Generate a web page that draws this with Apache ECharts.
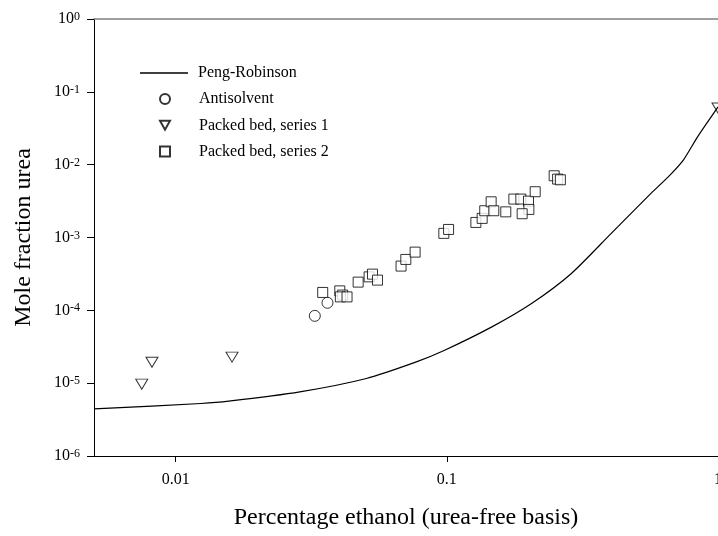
<!DOCTYPE html>
<html style="height: 100%">
<head>
    <meta charset="utf-8">
    <script type="text/javascript" src="https://cdn.jsdelivr.net/npm/echarts@6/dist/echarts.min.js"></script>
    <style>
        body { margin: 0; background: #fff; }
        #chart { width: 718px; height: 536px; }
    </style>
</head>
<body>
<div id="chart"></div>
<script type="text/javascript">
    // Peng-Robinson model curve (x = ethanol fraction, y = urea mole fraction)
    var prX = [0.005, 0.0124, 0.0157, 0.0287, 0.0505, 0.0772, 0.0977, 0.1466, 0.2053, 0.288, 0.404, 0.566, 0.665, 0.745, 0.834, 0.908, 1.0];
    var prY = [4.43e-6, 5.26e-6, 5.66e-6, 7.6e-6, 1.16e-5, 1.96e-5, 2.81e-5, 5.93e-5, 1.24e-4, 3.21e-4, 1.14e-3, 4.03e-3, 7.2e-3, 0.01157, 0.023, 0.0369, 0.062];

    var antiX = [0.0326, 0.0363];
    var antiY = [8.4e-5, 1.27e-4];

    var bed1X = [0.0075, 0.00818, 0.01614, 1.0];
    var bed1Y = [9.7e-6, 1.94e-5, 2.28e-5, 0.06];

    var bed2X = [0.03486, 0.0403, 0.0413, 0.0405, 0.04286, 0.0471, 0.0517, 0.0532, 0.0555, 0.0678,
                 0.0706, 0.0764, 0.0975, 0.1015, 0.128, 0.135, 0.138, 0.1457, 0.149, 0.165,
                 0.1767, 0.1875, 0.2001, 0.2007, 0.1896, 0.2118, 0.2488, 0.2562, 0.2623];
    var bed2Y = [1.76e-4, 1.85e-4, 1.62e-4, 1.53e-4, 1.53e-4, 2.44e-4, 2.88e-4, 3.14e-4, 2.60e-4, 4.05e-4,
                 5.0e-4, 6.3e-4, 1.14e-3, 1.29e-3, 1.61e-3, 1.83e-3, 2.33e-3, 3.09e-3, 2.33e-3, 2.25e-3,
                 3.37e-3, 3.37e-3, 3.16e-3, 2.43e-3, 2.12e-3, 4.25e-3, 7.04e-3, 6.34e-3, 6.2e-3];

    var xTicks = [0.01, 0.1, 1];
    var yTicks = [1e-6, 1e-5, 1e-4, 1e-3, 1e-2, 1e-1, 1];

    function pairs(xs, ys) {
        var out = [];
        for (var i = 0; i < xs.length; i++) out.push([xs[i], ys[i]]);
        return out;
    }

    var serif = "'Liberation Serif', 'Times New Roman', serif";
    var downTriangle = 'path://M0,0L10,0L5,9Z';

    var myChart = echarts.init(document.getElementById('chart'));
    var option = {
        backgroundColor: '#fff',
        animation: false,
        textStyle: { fontFamily: serif, color: '#000' },
        grid: { left: 94, right: 0, top: 19, bottom: 80, outerBoundsMode: 'none', containLabel: false },
        legend: [
            {
                data: [{ name: 'Peng-Robinson', icon: 'rect' }],
                left: 140, top: 65, padding: 0,
                itemWidth: 48, itemHeight: 1.3,
                textStyle: { fontFamily: serif, fontSize: 16, lineHeight: 16, color: '#000', padding: [0, 0, 0, 5] }
            },
            {
                data: ['Antisolvent', 'Packed bed, series 1', 'Packed bed, series 2'],
                orient: 'vertical',
                left: 159, top: 91, padding: 0,
                itemWidth: 10, itemHeight: 10, itemGap: 10.3,
                textStyle: { fontFamily: serif, fontSize: 16, lineHeight: 16, color: '#000', padding: [0, 0, 0, 24] }
            }
        ],
        xAxis: [
            {
                type: 'log', logBase: 10, min: 0.005, max: 1,
                name: 'Percentage ethanol (urea-free basis)',
                nameLocation: 'middle', nameGap: 50,
                nameTextStyle: { fontFamily: serif, fontSize: 24, color: '#000' },
                axisLine: { lineStyle: { color: '#000', width: 1 } },
                axisTick: { customValues: xTicks, length: 6, lineStyle: { color: '#000' } },
                axisLabel: {
                    customValues: xTicks, margin: 16,
                    fontFamily: serif, fontSize: 16, color: '#000',
                    formatter: function (v) { return v >= 1 ? '1' : String(+v.toPrecision(1)); }
                },
                splitLine: { show: false },
                minorTick: { show: false }
            },
            {
                type: 'log', logBase: 10, min: 0.005, max: 1, position: 'top',
                axisLine: { lineStyle: { color: '#808080', width: 1.5 } },
                axisTick: { show: false }, axisLabel: { show: false }, splitLine: { show: false }
            }
        ],
        yAxis: {
            type: 'log', logBase: 10, min: 1e-6, max: 1,
            name: 'Mole fraction urea',
            nameLocation: 'middle', nameGap: 58,
            nameTextStyle: { fontFamily: serif, fontSize: 24, color: '#000' },
            axisLine: { show: true, lineStyle: { color: '#000', width: 1 } },
            axisTick: { show: true, customValues: yTicks, length: 7, lineStyle: { color: '#000' } },
            axisLabel: {
                customValues: yTicks, margin: 14,
                fontFamily: serif, fontSize: 16, color: '#000',
                formatter: function (v) {
                    var e = Math.round(Math.log10(v));
                    return '{b|10}{s|' + (e < 0 ? '-' + (-e) : e) + '}';
                },
                rich: {
                    b: { fontFamily: serif, fontSize: 16, color: '#000', lineHeight: 16, verticalAlign: 'bottom' },
                    s: { fontFamily: serif, fontSize: 12, color: '#000', lineHeight: 16, verticalAlign: 'top', padding: [0, 0, 6, 0] }
                }
            },
            splitLine: { show: false }
        },
        series: [
            {
                name: 'Peng-Robinson', type: 'line', smooth: 0.25,
                symbol: 'none', clip: true,
                lineStyle: { color: '#000', width: 1.2 },
                itemStyle: { color: '#000' },
                data: pairs(prX, prY)
            },
            {
                name: 'Antisolvent', type: 'scatter',
                symbol: 'circle', symbolSize: 11,
                itemStyle: { color: '#fff', borderColor: '#000', borderWidth: 1 },
                data: pairs(antiX, antiY)
            },
            {
                name: 'Packed bed, series 1', type: 'scatter',
                symbol: downTriangle, symbolSize: [12, 10],
                itemStyle: { color: '#fff', borderColor: '#000', borderWidth: 1 },
                data: pairs(bed1X, bed1Y)
            },
            {
                name: 'Packed bed, series 2', type: 'scatter',
                symbol: 'rect', symbolSize: 10,
                itemStyle: { color: '#fff', borderColor: '#000', borderWidth: 1 },
                data: pairs(bed2X, bed2Y)
            }
        ]
    };
    myChart.setOption(option);
</script>
</body>
</html>
